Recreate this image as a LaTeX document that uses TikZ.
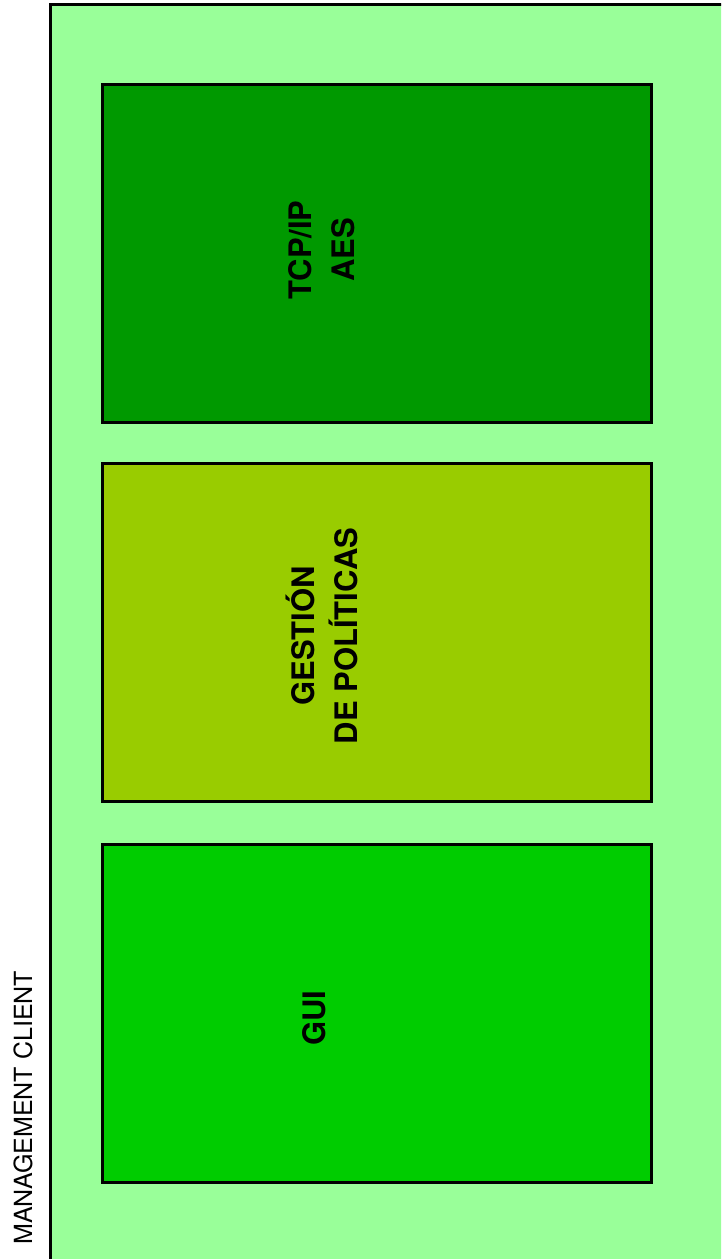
\documentclass[tikz,border=0pt]{standalone}
\usepackage{fontspec}
\setmainfont{TeX Gyre Heros}
\usepackage{xcolor}
\definecolor{clientbg}{HTML}{99FF99}
\definecolor{netgreen}{HTML}{009900}
\definecolor{polgreen}{HTML}{99CC00}
\definecolor{guigreen}{HTML}{00CC00}
\usetikzlibrary{positioning}

\tikzset{
  module/.style={draw=black, line width=3pt, minimum width=549pt, minimum height=338pt, inner sep=0pt},
  modlabel/.style={font=\fontsize{31}{43}\selectfont\bfseries, rotate=90, align=center}
}

\begin{document}
\begin{tikzpicture}[x=1pt, y=-1pt]
        \useasboundingbox (0,0) rectangle (721,1259);
        % Client frame, runs off the page at right and bottom
        \begin{scope}
          \clip (0,0) rectangle (721,1259);
          \draw[fill=clientbg, line width=3pt] (50.5,4) rectangle (760,1300);
        \end{scope}
        \node[font=\fontsize{25}{27}\selectfont, rotate=90, anchor=west, inner sep=0pt] (client) at (23,1245) {MANAGEMENT CLIENT};
        % Modules
        \node[module, fill=netgreen] (net) at (377,253) {};
        \node[module, fill=polgreen] (pol) at (377,632.5) {};
        \node[module, fill=guigreen] (gui) at (377,1013) {};
        \node[modlabel] (netlabel) at (322,250) {TCP/IP\\AES};
        \node[modlabel] (pollabel) at (322,636) {GESTIÓN\\DE POLÍTICAS};
        \node[modlabel] (guilabel) at (314,1018) {GUI};
      \end{tikzpicture}
\end{document}
